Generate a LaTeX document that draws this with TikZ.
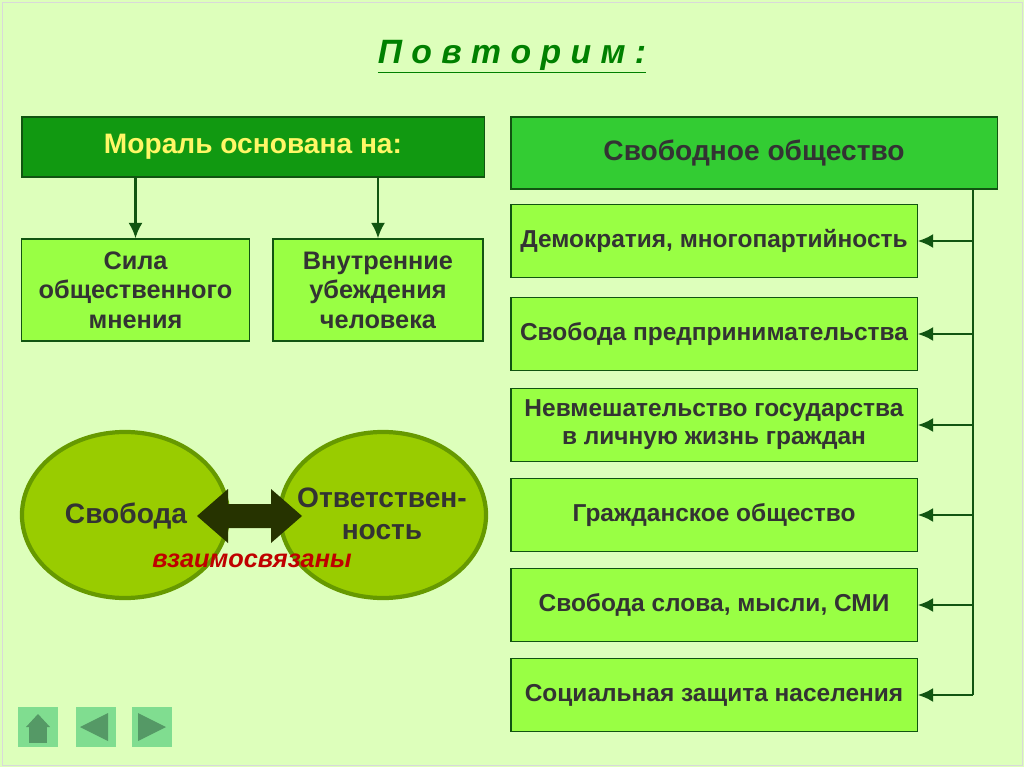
\documentclass[tikz,border=0pt]{standalone}
\usepackage{fontspec}
\setmainfont{Liberation Sans}
\usetikzlibrary{shapes.geometric,arrows.meta}
\definecolor{bg}{HTML}{DDFFBB}
\definecolor{dkgreen}{HTML}{119911}
\definecolor{midgreen}{HTML}{33CC33}
\definecolor{ltgreen}{HTML}{99FF44}
\definecolor{olive}{HTML}{99CC00}
\definecolor{oliveline}{HTML}{669900}
\definecolor{line}{HTML}{115511}
\definecolor{navfill}{HTML}{80DD90}
\definecolor{navicon}{HTML}{559966}
\tikzset{
  box/.style={draw=line, thick, fill=ltgreen, align=center, inner sep=0pt,
    font=\fontsize{17.4}{20}\selectfont\bfseries, text=black!80},
  oval/.style={ellipse, draw=oliveline, line width=3pt, fill=olive, inner sep=0pt,
    minimum width=5.15cm, minimum height=4.15cm},
  arr/.style={-{Latex[length=11pt,width=10pt]}, line width=2pt, draw=line},
  nav/.style={fill=navfill, minimum size=1cm, inner sep=0pt},
}
\begin{document}
\begin{tikzpicture}[x=0.025cm, y=-0.025cm]
  \fill[bg] (0,0) rectangle (1024,767);
  \draw[black!15] (2,2) rectangle (1022,765);
  \node (title) at (512,57) {\fontsize{24}{28}\selectfont\bfseries\itshape\color{green!50!black}\underline{П\ о\ в\ т\ о\ р\ и\ м\ :}};

  % left part
  \node[box, fill=dkgreen, text=yellow!60, font=\fontsize{20}{24}\selectfont\bfseries,
    minimum width=11.55cm, minimum height=1.5cm] (moral) at (253,147) {Мораль основана на:};
  \node[box, font=\fontsize{18}{21}\selectfont\bfseries, minimum width=5.68cm, minimum height=2.55cm] (sila) at (135.5,290) {Сила\\общественного\\мнения};
  \node[box, font=\fontsize{18}{21}\selectfont\bfseries, minimum width=5.25cm, minimum height=2.55cm] (vnutr) at (378,290) {Внутренние\\убеждения\\человека};
  \draw[arr] (moral.south -| sila) -- (sila);
  \draw[arr] (moral.south -| vnutr) -- (vnutr);

  \node[oval] (svob) at (125,515) {};
  \node[oval] (otv) at (383,515) {};
  \node[font=\fontsize{20}{23}\selectfont\bfseries, text=black!80] at (126,516) {Свобода};
  \node[font=\fontsize{20}{23}\selectfont\bfseries, text=black!80, align=center] at (382,514) {Ответствен-\\ность};
  % double arrow
  \fill[black!75!olive] (197,516) -- (228,489) -- (228,504) -- (271,504) -- (271,489)
    -- (302,516) -- (271,543) -- (271,528) -- (228,528) -- (228,543) -- cycle;
  \node[font=\fontsize{18}{21}\selectfont\bfseries\itshape, text=red!75!black] (vz) at (252,561) {взаимосвязаны};

  % right part
  \node[box, fill=midgreen, font=\fontsize{20}{24}\selectfont\bfseries, minimum width=12.15cm, minimum height=1.8cm] (obsh) at (754,153) {Свободное общество};
  \foreach \n/\y/\t in {b1/241/{Демократия, многопартийность},
                       b2/334/{Свобода предпринимательства},
                       b3/425/{Невмешательство государства\\в личную жизнь граждан},
                       b4/515/{Гражданское общество},
                       b5/605/{Свобода слова, мысли, СМИ},
                       b6/695/{Социальная защита населения}} {
    \node[box, minimum width=10.15cm, minimum height=1.83cm] (\n) at (714,\y) {\t};
    \draw[arr] (973,\y) -- (\n.east);
  }
  \coordinate (top) at (973,189);
  \draw[line width=2pt, draw=line] (top) -- (973,695);

  % navigation
  \node[nav] (home) at (38,727) {};
  \node[nav] (back) at (96,727) {};
  \node[nav] (fwd) at (152,727) {};
  \fill[navicon] (26,727) -- (38,714) -- (50,727) -- cycle;
  \fill[navicon] (29,726) rectangle (47,743);
  \fill[navicon] (80,727) -- (108,713) -- (108,741) -- cycle;
  \fill[navicon] (138,713) -- (166,727) -- (138,741) -- cycle;
\end{tikzpicture}
\end{document}
